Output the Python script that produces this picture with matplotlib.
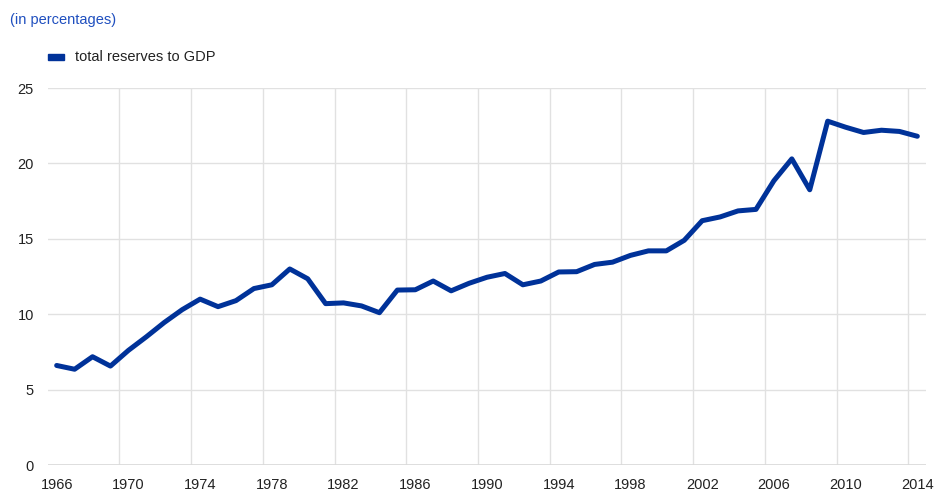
import matplotlib
matplotlib.use('Agg')
import matplotlib.pyplot as plt
from matplotlib.patches import Rectangle

plt.rcParams['font.family'] = ['Liberation Sans', 'DejaVu Sans']

# total reserves to GDP, in percentages
years = list(range(1966, 2015))
reserves = [6.6, 6.35, 7.18, 6.56, 7.6, 8.5, 9.45, 10.3, 11.0, 10.5,
            10.9, 11.7, 11.95, 13.0, 12.35, 10.7, 10.75, 10.55, 10.1, 11.6,
            11.62, 12.2, 11.55, 12.05, 12.45, 12.7, 11.95, 12.2, 12.8, 12.82,
            13.3, 13.45, 13.9, 14.2, 14.2, 14.9, 16.2, 16.45, 16.85, 16.95,
            18.85, 20.3, 18.25, 22.8, 22.4, 22.05, 22.2, 22.12, 21.8]
tick_years = list(range(1966, 2015, 4))
legend_label = 'total reserves to GDP'
subtitle = '(in percentages)'

blue = '#003299'
grid = '#e1e1e1'

fig = plt.figure(figsize=(9.36, 4.9), dpi=100)
ax = fig.add_axes([47.7 / 936, 25 / 490, 878.6 / 936, 377 / 490])

x = [y - years[0] for y in years]
ax.plot(x, reserves, color=blue, lw=3.6, solid_capstyle='round',
        solid_joinstyle='round', zorder=3)

ax.set_xlim(-0.5, len(years) - 0.5)
ax.set_ylim(0, 25)
ax.set_yticks([0, 5, 10, 15, 20, 25])
ax.set_xticks([t - years[0] for t in tick_years])
ax.set_xticklabels([str(t) for t in tick_years])

# vertical grid lines sit on the boundaries between years
for t in tick_years[1:]:
    ax.axvline(t - years[0] - 0.5, color=grid, lw=1, zorder=1)
ax.grid(axis='y', color=grid, lw=1, zorder=1)

for s in ax.spines.values():
    s.set_visible(False)
ax.axhline(0, color='#d9d9d9', lw=1.2, zorder=2)
ax.tick_params(axis='both', length=0, labelsize=10.5, colors='#222222')
ax.tick_params(axis='x', pad=9)
ax.tick_params(axis='y', pad=10)

fig.text(10 / 936, 1 - 20 / 490, subtitle, color='#1f4fbf', fontsize=10.5,
         va='center', ha='left')
fig.patches.append(Rectangle((48 / 936, 1 - 60 / 490), 16 / 936, 6 / 490,
                             transform=fig.transFigure, color=blue))
fig.text(75 / 936, 1 - 57 / 490, legend_label, color='#222222', fontsize=10.5,
         va='center', ha='left')

fig.savefig('out.png', dpi=100)
